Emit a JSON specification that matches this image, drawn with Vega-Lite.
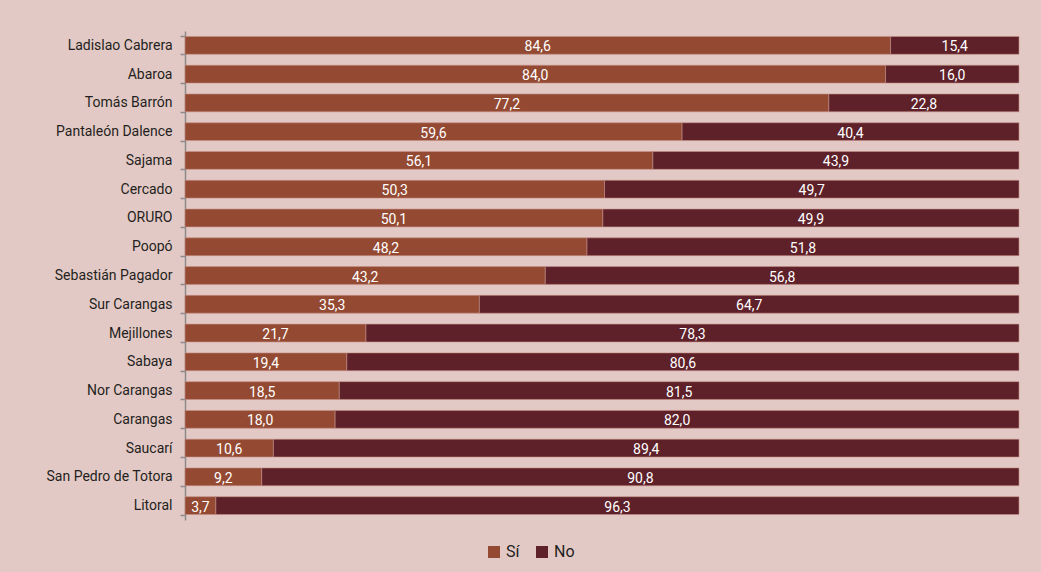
{
  "$schema": "https://vega.github.io/schema/vega-lite/v6.json",
  "autosize": {"type": "none"},
  "width": 834,
  "height": 489,
  "padding": {"top": 31, "right": 22, "bottom": 52, "left": 185},
  "background": "#e3c9c5",
  "data": {"values": [
    {"municipio": "Ladislao Cabrera", "categoria": "Sí", "valor": 84.6},
    {"municipio": "Ladislao Cabrera", "categoria": "No", "valor": 15.4},
    {"municipio": "Abaroa", "categoria": "Sí", "valor": 84.0},
    {"municipio": "Abaroa", "categoria": "No", "valor": 16.0},
    {"municipio": "Tomás Barrón", "categoria": "Sí", "valor": 77.2},
    {"municipio": "Tomás Barrón", "categoria": "No", "valor": 22.8},
    {"municipio": "Pantaleón Dalence", "categoria": "Sí", "valor": 59.6},
    {"municipio": "Pantaleón Dalence", "categoria": "No", "valor": 40.4},
    {"municipio": "Sajama", "categoria": "Sí", "valor": 56.1},
    {"municipio": "Sajama", "categoria": "No", "valor": 43.9},
    {"municipio": "Cercado", "categoria": "Sí", "valor": 50.3},
    {"municipio": "Cercado", "categoria": "No", "valor": 49.7},
    {"municipio": "ORURO", "categoria": "Sí", "valor": 50.1},
    {"municipio": "ORURO", "categoria": "No", "valor": 49.9},
    {"municipio": "Poopó", "categoria": "Sí", "valor": 48.2},
    {"municipio": "Poopó", "categoria": "No", "valor": 51.8},
    {"municipio": "Sebastián Pagador", "categoria": "Sí", "valor": 43.2},
    {"municipio": "Sebastián Pagador", "categoria": "No", "valor": 56.8},
    {"municipio": "Sur Carangas", "categoria": "Sí", "valor": 35.3},
    {"municipio": "Sur Carangas", "categoria": "No", "valor": 64.7},
    {"municipio": "Mejillones", "categoria": "Sí", "valor": 21.7},
    {"municipio": "Mejillones", "categoria": "No", "valor": 78.3},
    {"municipio": "Sabaya", "categoria": "Sí", "valor": 19.4},
    {"municipio": "Sabaya", "categoria": "No", "valor": 80.6},
    {"municipio": "Nor Carangas", "categoria": "Sí", "valor": 18.5},
    {"municipio": "Nor Carangas", "categoria": "No", "valor": 81.5},
    {"municipio": "Carangas", "categoria": "Sí", "valor": 18.0},
    {"municipio": "Carangas", "categoria": "No", "valor": 82.0},
    {"municipio": "Saucarí", "categoria": "Sí", "valor": 10.6},
    {"municipio": "Saucarí", "categoria": "No", "valor": 89.4},
    {"municipio": "San Pedro de Totora", "categoria": "Sí", "valor": 9.2},
    {"municipio": "San Pedro de Totora", "categoria": "No", "valor": 90.8},
    {"municipio": "Litoral", "categoria": "Sí", "valor": 3.7},
    {"municipio": "Litoral", "categoria": "No", "valor": 96.3}
  ]},
  "encoding": {
    "y": {
      "field": "municipio", "type": "nominal", "sort": null, "title": null,
      "scale": {"paddingInner": 0.38, "paddingOuter": 0.19},
      "axis": {
        "tickBand": "extent", "domainColor": "#8a8a8a", "tickColor": "#8a8a8a",
        "domainWidth": 1.5, "tickWidth": 1.5, "tickSize": 5, "labelPadding": 8,
        "labelFont": "Roboto", "labelFontSize": 14, "labelColor": "#231f20"
      }
    },
    "x": {
      "field": "valor", "type": "quantitative", "stack": "zero",
      "scale": {"domain": [0, 100], "nice": false},
      "axis": null
    },
    "order": {"field": "categoria", "sort": "descending"}
  },
  "layer": [
    {
      "mark": {"type": "bar", "stroke": "#c69088", "strokeWidth": 0.6},
      "encoding": {
        "color": {
          "field": "categoria", "type": "nominal", "title": null,
          "scale": {"domain": ["Sí", "No"], "range": ["#944a32", "#5e2029"]},
          "legend": {
            "orient": "none", "legendX": 301, "legendY": 513, "padding": 0,
            "direction": "horizontal", "symbolType": "square",
            "symbolSize": 144, "symbolStrokeWidth": 0, "symbolOffset": 0, "labelOffset": 4,
            "labelFont": "Roboto", "labelFontSize": 16, "labelColor": "#231f20", "columnPadding": 14
          }
        }
      }
    },
    {
      "mark": {"type": "text", "color": "white", "font": "Roboto", "fontSize": 14, "baseline": "middle", "dy": 2},
      "encoding": {
        "x": {"field": "valor", "type": "quantitative", "stack": "zero", "bandPosition": 0.5},
        "text": {"field": "valor", "type": "quantitative", "format": ".1f"}
      }
    }
  ],
  "config": {
    "view": {"stroke": null},
    "locale": {"number": {"decimal": ",", "thousands": ".", "grouping": [3], "currency": ["", " €"]}}
  }
}
